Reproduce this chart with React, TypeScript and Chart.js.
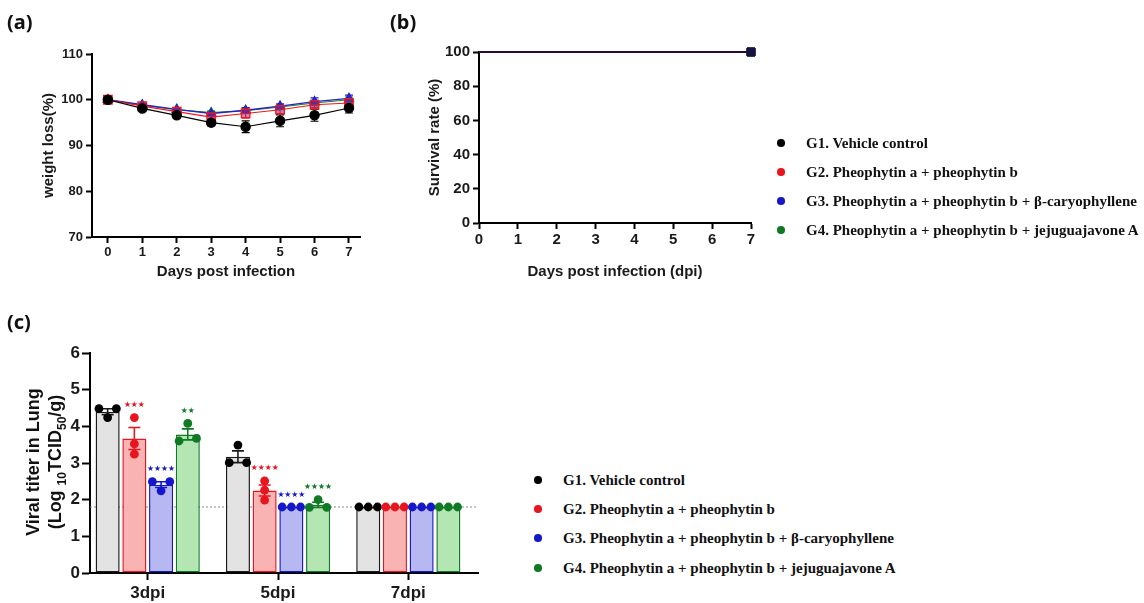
import React, { useEffect, useRef } from 'react';
import { Chart, registerables } from 'chart.js';

Chart.register(...registerables);

const SANS = "'Liberation Sans', Arial, Helvetica, sans-serif";
const SERIF = "'Liberation Serif', 'Times New Roman', serif";

// ---------- shared ----------
const GROUP_LABELS = [
  'G1. Vehicle control',
  'G2. Pheophytin a + pheophytin b',
  'G3. Pheophytin a + pheophytin b + β-caryophyllene',
  'G4. Pheophytin a + pheophytin b + jejuguajavone A',
];
const GROUP_COLORS = ['#000000', '#e8141e', '#1418c8', '#0f7a23'];

// ---------- (a) weight ----------
const DAYS = [0, 1, 2, 3, 4, 5, 6, 7];
const WEIGHT_TICKS = [70, 80, 90, 100, 110];
const WEIGHT_G1 = [100, 98.1, 96.6, 95.0, 94.1, 95.4, 96.6, 98.2];
const WEIGHT_G2 = [100, 98.6, 97.4, 96.2, 97.0, 97.8, 98.9, 99.3];
const WEIGHT_G3 = [100, 98.9, 97.9, 97.0, 97.7, 98.6, 99.6, 100.3];
const WEIGHT_G4 = [100, 98.8, 97.8, 97.2, 97.6, 98.4, 99.3, 100.0];
const WEIGHT_SEM_G1 = [0.3, 0.5, 0.6, 0.7, 1.3, 1.3, 1.3, 1.1];
const WEIGHT_SEM_G2 = [0.3, 0.4, 0.5, 0.6, 1.0, 0.8, 0.6, 0.5];
const WEIGHT_SEM_G3 = [0.2, 0.3, 0.3, 0.4, 0.6, 0.5, 0.8, 0.7];
const WEIGHT_SEM_G4 = [0.2, 0.3, 0.4, 0.4, 0.6, 0.5, 0.6, 0.6];

// ---------- (b) survival ----------
const SURVIVAL_TICKS = [0, 20, 40, 60, 80, 100];
const SURVIVAL_G1 = [100, 100, 100, 100, 100, 100, 100, 100];
const SURVIVAL_G2 = [100, 100, 100, 100, 100, 100, 100, 100];
const SURVIVAL_G3 = [100, 100, 100, 100, 100, 100, 100, 100];
const SURVIVAL_G4 = [100, 100, 100, 100, 100, 100, 100, 100];

// ---------- (c) viral titer ----------
const TITER_CATEGORIES = ['3dpi', '5dpi', '7dpi'];
const TITER_TICKS = [0, 1, 2, 3, 4, 5, 6];
const DETECTION_LIMIT = 1.8;
const TITER_MEAN_G1 = [4.40, 3.17, 1.80];
const TITER_MEAN_G2 = [3.67, 2.25, 1.80];
const TITER_MEAN_G3 = [2.41, 1.80, 1.80];
const TITER_MEAN_G4 = [3.78, 1.86, 1.80];
const TITER_SEM_G1 = [0.08, 0.16, 0];
const TITER_SEM_G2 = [0.30, 0.15, 0];
const TITER_SEM_G3 = [0.08, 0, 0];
const TITER_SEM_G4 = [0.15, 0.07, 0];
const TITER_POINTS_G1 = [[4.48, 4.48, 4.24], [3.49, 3.01, 3.01], [1.8, 1.8, 1.8]];
const TITER_POINTS_G2 = [[4.24, 3.52, 3.24], [2.51, 2.26, 1.99], [1.8, 1.8, 1.8]];
const TITER_POINTS_G3 = [[2.49, 2.49, 2.24], [1.8, 1.8, 1.8], [1.8, 1.8, 1.8]];
const TITER_POINTS_G4 = [[4.08, 3.60, 3.67], [2.0, 1.79, 1.79], [1.8, 1.8, 1.8]];
const TITER_STARS_G1 = ['', '', ''];
const TITER_STARS_G2 = ['★★★', '★★★★', ''];
const TITER_STARS_G3 = ['★★★★', '★★★★', ''];
const TITER_STARS_G4 = ['★★', '★★★★', ''];

const BAR_FILLS = ['#e3e3e3', '#f9b3b3', '#b7b7f2', '#b3e6b3'];
const BAR_BORDERS = ['#1a1a1a', '#e8141e', '#1418c8', '#0f7a23'];

// ---------- helpers ----------
function frame(cx: number, cy: number, cw: number, ch: number, L: number, T: number, R: number, B: number) {
  return {
    padding: { left: 0, top: T - cy, right: cx + cw - R, bottom: 0 },
    yWidth: L - cx,
    xHeight: cy + ch - B,
  };
}

function axis(fontSize: number, tickLen: number, pad: number, tickValues: number[]) {
  return {
    offset: false,
    border: { display: true, color: '#000', width: 2 },
    grid: { display: true, offset: false, drawOnChartArea: false, drawTicks: true, tickLength: tickLen, tickWidth: 2, tickColor: '#000' },
    ticks: { color: '#1a1a1a', font: { family: SANS, size: fontSize, weight: 'bold' as const }, padding: pad },
    afterBuildTicks: (s: any) => { s.ticks = tickValues.map((v) => ({ value: v })); },
  };
}

// ---------- (a) config ----------
const A_BOX = { cx: 0, cy: 30, cw: 380, ch: 260 };
function weightConfig(): any {
  const f = frame(A_BOX.cx, A_BOX.cy, A_BOX.cw, A_BOX.ch, 92, 54, 360, 237);
  const series = [
    { label: GROUP_LABELS[0], values: WEIGHT_G1, sem: WEIGHT_SEM_G1, color: '#000000', style: 'circle', r: 4.6, fill: '#000000', bw: 1.2 },
    { label: GROUP_LABELS[1], values: WEIGHT_G2, sem: WEIGHT_SEM_G2, color: '#f01818', style: 'rect', r: 6, fill: 'rgba(150,40,120,0.55)', bw: 1.1 },
    { label: GROUP_LABELS[2], values: WEIGHT_G3, sem: WEIGHT_SEM_G3, color: '#2323c8', style: 'triangle', r: 5, fill: '#3a24b0', bw: 1.4 },
    { label: GROUP_LABELS[3], values: WEIGHT_G4, sem: WEIGHT_SEM_G4, color: '#168a2a', style: 'triangle', r: 5, fill: '#168a2a', bw: 1.1 },
  ];
  const errPlugin = {
    id: 'weightErr',
    beforeDatasetsDraw(chart: any) {
      const { ctx, scales } = chart;
      ctx.save();
      for (let k = series.length - 1; k >= 0; k--) {
        const s = series[k];
        ctx.strokeStyle = s.color;
        ctx.lineWidth = 1.2;
        DAYS.forEach((d, i) => {
          const px = scales.x.getPixelForValue(d);
          const t = scales.y.getPixelForValue(s.values[i] + s.sem[i]);
          const b = scales.y.getPixelForValue(s.values[i] - s.sem[i]);
          ctx.beginPath();
          ctx.moveTo(px, t); ctx.lineTo(px, b);
          ctx.moveTo(px - 4, t); ctx.lineTo(px + 4, t);
          ctx.moveTo(px - 4, b); ctx.lineTo(px + 4, b);
          ctx.stroke();
        });
      }
      ctx.restore();
    },
  };
  return {
    type: 'line',
    data: {
      datasets: series.map((s) => ({
        label: s.label,
        data: DAYS.map((d, i) => ({ x: d, y: s.values[i] })),
        borderColor: s.color,
        borderWidth: s.bw,
        pointStyle: s.style,
        pointRadius: s.r,
        pointBackgroundColor: s.fill,
        pointBorderColor: s.color,
        pointBorderWidth: 1.3,
        tension: 0,
        clip: false,
      })),
    },
    options: {
      responsive: false,
      animation: false,
      layout: { padding: f.padding },
      plugins: { legend: { display: false }, tooltip: { enabled: false } },
      scales: {
        x: {
          type: 'linear', min: -0.46, max: 7.32,
          ...axis(13, 6, 2, DAYS),
          afterFit: (s: any) => { s.height = f.xHeight; },
          title: { display: true, text: 'Days post infection', color: '#1a1a1a', font: { family: SANS, size: 15, weight: 'bold' }, padding: { top: 0, bottom: 9 } },
        },
        y: {
          type: 'linear', min: 70, max: 110,
          ...axis(13, 6, 3, WEIGHT_TICKS),
          afterFit: (s: any) => { s.width = f.yWidth; },
          title: { display: true, text: 'weight loss(%)', color: '#1a1a1a', font: { family: SANS, size: 15, weight: 'bold' }, padding: { top: 40, bottom: 0 } },
        },
      },
    },
    plugins: [errPlugin],
  };
}

// ---------- (b) config ----------
const B_BOX = { cx: 370, cy: 30, cw: 400, ch: 260 };
function survivalConfig(): any {
  const f = frame(B_BOX.cx, B_BOX.cy, B_BOX.cw, B_BOX.ch, 479, 52, 751, 223);
  const sets = [
    { label: GROUP_LABELS[0], values: SURVIVAL_G1, color: 'rgba(0,0,0,0.6)', order: 0 },
    { label: GROUP_LABELS[1], values: SURVIVAL_G2, color: '#e8141e', order: 2 },
    { label: GROUP_LABELS[2], values: SURVIVAL_G3, color: 'rgba(20,24,200,0.5)', order: 1 },
    { label: GROUP_LABELS[3], values: SURVIVAL_G4, color: '#0f7a23', order: 3 },
  ];
  return {
    type: 'line',
    data: {
      datasets: sets.map((s) => ({
        label: s.label,
        data: DAYS.map((d, i) => ({ x: d, y: s.values[i] })),
        borderColor: s.color,
        borderWidth: 2,
        stepped: true,
        order: s.order,
        pointStyle: 'rect',
        pointRadius: (c: any) => (c.dataIndex === DAYS.length - 1 ? 5.5 : 0),
        pointBackgroundColor: '#15153f',
        pointBorderColor: '#15153f',
        pointBorderWidth: 1,
        clip: false,
      })),
    },
    options: {
      responsive: false,
      animation: false,
      layout: { padding: f.padding },
      plugins: { legend: { display: false }, tooltip: { enabled: false } },
      scales: {
        x: {
          type: 'linear', min: 0, max: 7,
          ...axis(15, 6, 2, DAYS),
          afterFit: (s: any) => { s.height = f.xHeight; },
          title: { display: true, text: 'Days post infection (dpi)', color: '#1a1a1a', font: { family: SANS, size: 15, weight: 'bold' }, padding: { top: 0, bottom: 9 } },
        },
        y: {
          type: 'linear', min: 0, max: 100,
          ...axis(15, 6, 3, SURVIVAL_TICKS),
          afterFit: (s: any) => { s.width = f.yWidth; },
          title: { display: true, text: 'Survival rate (%)', color: '#1a1a1a', font: { family: SANS, size: 15, weight: 'bold' }, padding: { top: 56, bottom: 0 } },
        },
      },
    },
  };
}

// ---------- (c) config ----------
const C_BOX = { cx: 0, cy: 330, cw: 490, ch: 273 };
function jitter(values: number[]) {
  // side-by-side placement for (near-)equal values, like a column scatter
  const offs = values.map(() => 0);
  const used = values.map(() => false);
  values.forEach((v, i) => {
    if (used[i]) return;
    const cl = values.map((w, j) => j).filter((j) => !used[j] && Math.abs(values[j] - v) < 0.1);
    cl.forEach((j) => { used[j] = true; });
    const n = cl.length;
    const step = n === 2 ? 17.4 : 9.2;
    cl.forEach((j, k) => { offs[j] = (k - (n - 1) / 2) * step; });
  });
  return offs;
}
function titerConfig(): any {
  const f = frame(C_BOX.cx, C_BOX.cy, C_BOX.cw, C_BOX.ch, 90, 353, 478, 573);
  const groups = [
    { label: GROUP_LABELS[0], mean: TITER_MEAN_G1, sem: TITER_SEM_G1, pts: TITER_POINTS_G1, stars: TITER_STARS_G1 },
    { label: GROUP_LABELS[1], mean: TITER_MEAN_G2, sem: TITER_SEM_G2, pts: TITER_POINTS_G2, stars: TITER_STARS_G2 },
    { label: GROUP_LABELS[2], mean: TITER_MEAN_G3, sem: TITER_SEM_G3, pts: TITER_POINTS_G3, stars: TITER_STARS_G3 },
    { label: GROUP_LABELS[3], mean: TITER_MEAN_G4, sem: TITER_SEM_G4, pts: TITER_POINTS_G4, stars: TITER_STARS_G4 },
  ];
  const extras = {
    id: 'titerExtras',
    beforeDatasetsDraw(chart: any) {
      const { ctx, chartArea, scales } = chart;
      const y = scales.y.getPixelForValue(DETECTION_LIMIT);
      ctx.save();
      ctx.strokeStyle = '#8c8c8c';
      ctx.lineWidth = 1;
      ctx.setLineDash([2, 2]);
      ctx.beginPath();
      ctx.moveTo(chartArea.left, y);
      ctx.lineTo(chartArea.right, y);
      ctx.stroke();
      ctx.restore();
    },
    afterDatasetsDraw(chart: any) {
      const { ctx, scales } = chart;
      ctx.save();
      groups.forEach((g, gi) => {
        const meta = chart.getDatasetMeta(gi);
        meta.data.forEach((bar: any, ci: number) => {
          const x = bar.x;
          const m = g.mean[ci];
          const s = g.sem[ci];
          const col = BAR_BORDERS[gi];
          if (s > 0) {
            const t = scales.y.getPixelForValue(m + s);
            const b = scales.y.getPixelForValue(m - s);
            ctx.strokeStyle = col;
            ctx.lineWidth = 1.6;
            ctx.beginPath();
            ctx.moveTo(x, t); ctx.lineTo(x, b);
            ctx.moveTo(x - 6, t); ctx.lineTo(x + 6, t);
            ctx.moveTo(x - 6, b); ctx.lineTo(x + 6, b);
            ctx.stroke();
          }
          const vals = g.pts[ci];
          const offs = jitter(vals);
          ctx.fillStyle = GROUP_COLORS[gi];
          vals.forEach((v, k) => {
            ctx.beginPath();
            ctx.arc(x + offs[k], scales.y.getPixelForValue(v), 4.4, 0, Math.PI * 2);
            ctx.fill();
          });
          if (g.stars[ci]) {
            const topVal = Math.max(...vals, m + s);
            const ty = scales.y.getPixelForValue(topVal) - 12.5;
            ctx.fillStyle = GROUP_COLORS[gi];
            ctx.font = "7.8px 'DejaVu Sans'";
            ctx.textAlign = 'center';
            ctx.textBaseline = 'middle';
            ctx.fillText(g.stars[ci], x, ty);
          }
        });
      });
      ctx.restore();
    },
  };
  const xAxis = axis(17, 7, 3, TITER_CATEGORIES.map((c, i) => i));
  return {
    type: 'bar',
    data: {
      datasets: groups.map((g, gi) => ({
        label: g.label,
        data: TITER_CATEGORIES.map((c, i) => ({ x: i, y: g.mean[i] })),
        backgroundColor: BAR_FILLS[gi],
        borderColor: BAR_BORDERS[gi],
        borderWidth: 1.5,
        borderSkipped: false,
        categoryPercentage: 0.82,
        barPercentage: 0.9,
      })),
    },
    options: {
      responsive: false,
      animation: false,
      layout: { padding: f.padding },
      plugins: { legend: { display: false }, tooltip: { enabled: false } },
      scales: {
        x: {
          type: 'linear', min: -0.443, max: 2.535,
          ...xAxis,
          offset: false,
          grid: { ...xAxis.grid, offset: false },
          ticks: {
            ...xAxis.ticks,
            callback: (v: number) => TITER_CATEGORIES[v],
          },
          afterFit: (s: any) => { s.height = f.xHeight; },
        },
        y: {
          type: 'linear', min: 0, max: 6,
          ...axis(17, 8, 2, TITER_TICKS),
          afterFit: (s: any) => { s.width = f.yWidth; },
        },
      },
    },
    plugins: [extras],
  };
}

// ---------- HTML pieces ----------
function PanelLabel({ text, left, cy }: { text: string; left: number; cy: number }) {
  return (
    <div style={{ position: 'absolute', left, top: cy - 12, lineHeight: '24px', fontFamily: "'Noto Sans', Arial, sans-serif", fontWeight: 'bold', fontSize: 20, color: '#111' }}>
      {text}
    </div>
  );
}

function Legend({ dotX, textX, rows }: { dotX: number; textX: number; rows: number[] }) {
  return (
    <>
      {GROUP_LABELS.map((lab, i) => (
        <React.Fragment key={i}>
          <div style={{ position: 'absolute', left: dotX - 3.8, top: rows[i] - 3.8, width: 7.6, height: 7.6, borderRadius: '50%', background: GROUP_COLORS[i] }} />
          <div style={{ position: 'absolute', left: textX, top: rows[i] - 10, lineHeight: '20px', whiteSpace: 'nowrap', fontFamily: SERIF, fontWeight: 'bold', fontSize: 15, color: '#111' }}>
            {lab}
          </div>
        </React.Fragment>
      ))}
    </>
  );
}

export default function App() {
  const aRef = useRef<HTMLCanvasElement>(null);
  const bRef = useRef<HTMLCanvasElement>(null);
  const cRef = useRef<HTMLCanvasElement>(null);

  useEffect(() => {
    const charts = [
      new Chart(aRef.current as HTMLCanvasElement, weightConfig()),
      new Chart(bRef.current as HTMLCanvasElement, survivalConfig()),
      new Chart(cRef.current as HTMLCanvasElement, titerConfig()),
    ];
    return () => charts.forEach((c) => c.destroy());
  }, []);

  return (
    <div style={{ position: 'absolute', left: 0, top: 0, width: 1144, height: 603, background: '#fff', overflow: 'hidden' }}>
      <canvas ref={aRef} width={A_BOX.cw} height={A_BOX.ch} style={{ position: 'absolute', left: A_BOX.cx, top: A_BOX.cy, width: A_BOX.cw, height: A_BOX.ch }} />
      <canvas ref={bRef} width={B_BOX.cw} height={B_BOX.ch} style={{ position: 'absolute', left: B_BOX.cx, top: B_BOX.cy, width: B_BOX.cw, height: B_BOX.ch }} />
      <canvas ref={cRef} width={C_BOX.cw} height={C_BOX.ch} style={{ position: 'absolute', left: C_BOX.cx, top: C_BOX.cy, width: C_BOX.cw, height: C_BOX.ch }} />

      <PanelLabel text="(a)" left={7} cy={22} />
      <PanelLabel text="(b)" left={390} cy={22} />
      <PanelLabel text="(c)" left={7} cy={322} />

      <div style={{ position: 'absolute', left: 44 - 100, top: 462 - 22, width: 200, height: 44, lineHeight: '22px', textAlign: 'center', transform: 'rotate(-90deg)', fontFamily: SANS, fontWeight: 'bold', fontSize: 18, color: '#111', whiteSpace: 'nowrap' }}>
        <div>Viral titer in Lung</div>
        <div>(Log <sub style={{ fontSize: 12, lineHeight: 0 }}>10</sub>TCID<sub style={{ fontSize: 12, lineHeight: 0 }}>50</sub>/g)</div>
      </div>

      <Legend dotX={781} textX={806} rows={[143, 172, 201, 230]} />
      <Legend dotX={538} textX={563} rows={[480, 509, 538, 568]} />
    </div>
  );
}
